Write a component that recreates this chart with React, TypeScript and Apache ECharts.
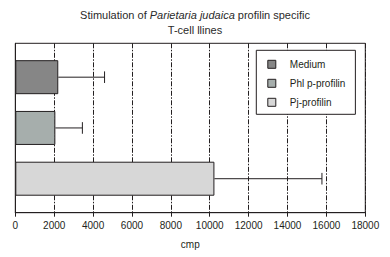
import React, { useEffect, useRef } from "react";
import * as echarts from "echarts";

const categories = ["Medium", "Phl p-profilin", "Pj-profilin"];
const means = [2210, 2060, 10240];
const sds = [2380, 1390, 5530];
const colors = ["#868686", "#a6aeac", "#d7d7d7"];
const xTicks = { min: 0, max: 18000, interval: 2000 };

const INK = "#231f20";
const FONT = "Liberation Sans, Arial, sans-serif";

export default function App() {
  const ref = useRef<HTMLDivElement>(null);
  useEffect(() => {
    if (!ref.current) return;
    const chart = echarts.init(ref.current, undefined, { renderer: "svg" });
    const gridLeft = 15.3;
    const gridRight = 390 - 365.3;
    const barSeries = categories.map((name, i) => ({
      type: "bar",
      name,
      xAxisIndex: 1,
      yAxisIndex: 1,
      stack: "all",
      barWidth: 34,
      data: categories.map((_, j) => (j === i ? means[i] : "-")),
      itemStyle: { color: colors[i], borderColor: INK, borderWidth: 1 },
      z: 3,
    }));
    const errData = categories.map((_, i) => [i, means[i], means[i] + sds[i]]);
    chart.setOption({
      animation: false,
      textStyle: { fontFamily: FONT },
      title: {
        text:
          "{n|Stimulation of }{i|Parietaria judaica}{n| profilin specific}\n{n|T-cell llines}",
        left: "center",
        top: 7,
        padding: 0,
        textStyle: {
          fontWeight: "normal",
          rich: {
            n: { fontSize: 11, fontFamily: FONT, fontWeight: "normal", color: "#2a2a2a", lineHeight: 15, align: "center" },
            i: { fontSize: 11, fontFamily: FONT, fontWeight: "normal", fontStyle: "italic", color: "#2a2a2a", lineHeight: 15 },
          },
        },
      },
      legend: {
        orient: "vertical",
        left: 256.3,
        top: 50.3,
        itemWidth: 8,
        itemHeight: 8,
        itemGap: 7,
        padding: [8, 10, 6, 11],
        borderColor: INK,
        borderWidth: 1,
        backgroundColor: "#fff",
        icon: "rect",
        itemStyle: { borderColor: INK, borderWidth: 1 },
        textStyle: { fontSize: 10, lineHeight: 12, color: INK, fontFamily: FONT, padding: [0, 0, 0, 9] },
        data: categories,
        z: 10,
      },
      grid: [
        { left: gridLeft, right: gridRight, top: 43.3, height: 169.4, show: true, borderColor: INK, borderWidth: 1, backgroundColor: "transparent" },
        { left: gridLeft, right: gridRight, top: 51.8, height: 152.3 },
      ],
      xAxis: [
        {
          type: "value",
          gridIndex: 0,
          min: xTicks.min,
          max: xTicks.max,
          interval: xTicks.interval,
          name: "cmp",
          nameLocation: "middle",
          nameGap: 27,
          nameTextStyle: { fontSize: 10, color: INK, fontFamily: FONT },
          axisLine: { show: true, lineStyle: { color: INK, width: 1 } },
          axisTick: { show: true, length: 4, lineStyle: { color: INK, width: 1 } },
          axisLabel: { fontSize: 10, color: INK, margin: 8, fontFamily: FONT, formatter: (v: number) => String(v) },
          splitLine: { show: true, lineStyle: { color: INK, width: 1, type: [5, 1.5, 1.5, 1.5] } },
        },
        {
          type: "value",
          gridIndex: 1,
          min: xTicks.min,
          max: xTicks.max,
          show: false,
          splitLine: { show: false },
        },
      ],
      yAxis: [
        {
          type: "value",
          gridIndex: 0,
          min: 0,
          max: 1,
          axisLine: { show: true, lineStyle: { color: INK, width: 1 } },
          axisTick: { show: false },
          axisLabel: { show: false },
          splitLine: { show: false },
        },
        {
          type: "category",
          gridIndex: 1,
          data: categories,
          inverse: true,
          show: false,
        },
      ],
      series: [
        ...barSeries,
        {
          type: "custom",
          xAxisIndex: 1,
          yAxisIndex: 1,
          data: errData,
          z: 4,
          renderItem: (params: any, api: any) => {
            const cat = api.value(0);
            const start = api.coord([api.value(1), cat]);
            const end = api.coord([api.value(2), cat]);
            const half = 5.8;
            const style = { stroke: INK, lineWidth: 1 };
            return {
              type: "group",
              children: [
                { type: "line", shape: { x1: start[0], y1: start[1], x2: end[0], y2: start[1] }, style },
                { type: "line", shape: { x1: end[0], y1: end[1] - half, x2: end[0], y2: end[1] + half }, style },
              ],
            };
          },
        },
      ],
    });
    return () => chart.dispose();
  }, []);
  return (
    <div
      ref={ref}
      style={{ position: "fixed", left: 0, top: 0, width: 390, height: 257, background: "#fff" }}
    />
  );
}
